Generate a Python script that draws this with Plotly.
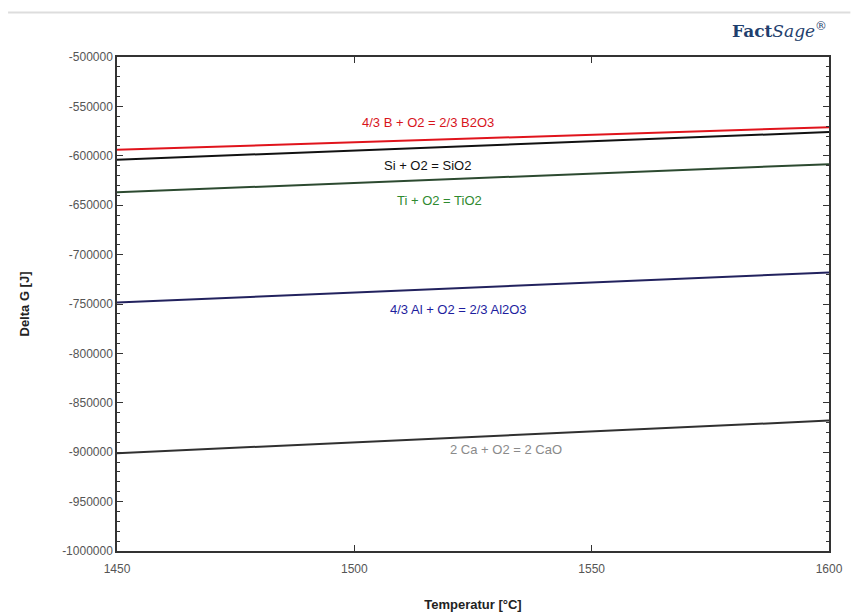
import plotly.graph_objects as go

# Standard Gibbs energy of oxide formation per mole O2 vs temperature
temperature = [1450, 1600]

reactions = ["4/3 B + O2 = 2/3 B2O3", "Si + O2 = SiO2", "Ti + O2 = TiO2",
             "4/3 Al + O2 = 2/3 Al2O3", "2 Ca + O2 = 2 CaO"]
dg_b2o3 = [-594000, -571000]
dg_sio2 = [-604000, -576000]
dg_tio2 = [-637000, -608500]
dg_al2o3 = [-748500, -718000]
dg_cao = [-901000, -868000]

y_ticks = [-500000, -550000, -600000, -650000, -700000, -750000,
           -800000, -850000, -900000, -950000, -1000000]
y_tick_text = ["-500000", "-550000", "-600000", "-650000", "-700000", "-750000",
               "-800000", "-850000", "-900000", "-950000", "-1000000"]
x_ticks = [1450, 1500, 1550, 1600]

line_colors = ["#e0141c", "#111111", "#2c4a30", "#22225e", "#303030"]
label_colors = ["#d8141c", "#111111", "#2f8a2f", "#1e1e9e", "#8a8a8a"]

# label anchor points (temperature, delta G)
label_x = [1515.5, 1515.5, 1518.0, 1522.0, 1532.0]
label_y = [-566000, -609500, -645500, -755500, -897000]

series = [dg_b2o3, dg_sio2, dg_tio2, dg_al2o3, dg_cao]

fig = go.Figure()
for name, vals, col in zip(reactions, series, line_colors):
    fig.add_trace(go.Scatter(x=temperature, y=vals, mode="lines", name=name,
                             line=dict(color=col, width=2), showlegend=False))

for name, lx, ly, col in zip(reactions, label_x, label_y, label_colors):
    fig.add_annotation(x=lx, y=ly, text=name, showarrow=False,
                       font=dict(family="Liberation Sans Narrow, Liberation Sans, Arial",
                                 size=13, color=col))

tick_font = dict(family="Liberation Sans Narrow, Liberation Sans, Arial", size=12, color="#555555")

fig.update_xaxes(range=[1450, 1600], tickvals=x_ticks, automargin=False,
                 ticks="inside", ticklen=6, tickcolor="#333333", mirror="ticks",
                 showline=True, linecolor="#333333", linewidth=1.5, showgrid=False,
                 zeroline=False, tickfont=tick_font, ticklabelstandoff=6,
                 title=dict(text="<b>Temperatur [°C]</b>", standoff=25,
                            font=dict(family="Liberation Sans, Arial", size=13, color="#222222")))
fig.update_yaxes(range=[-1000000, -500000], tickvals=y_ticks, ticktext=y_tick_text,
                 automargin=False,
                 ticks="inside", ticklen=6, tickcolor="#333333", mirror="ticks",
                 minor=dict(dtick=10000, ticks="inside", ticklen=3, tickcolor="#333333"),
                 showline=True, linecolor="#333333", linewidth=1.5, showgrid=False,
                 zeroline=False, tickfont=tick_font,
                 title=dict(text="<b>Delta G [J]</b>", standoff=30,
                            font=dict(family="Liberation Sans, Arial", size=13, color="#222222")))

# header rule and program logo
fig.add_shape(type="line", xref="paper", yref="paper", x0=-0.153, x1=1.03,
              y0=1.09, y1=1.09, line=dict(color="#dddddd", width=2))
fig.add_annotation(xref="paper", yref="paper", x=1.0, y=1.08, xanchor="right", yanchor="top",
                   text="<b>Fact</b><i>Sage</i><sup>®</sup>", showarrow=False,
                   font=dict(family="DejaVu Serif, serif", size=17, color="#1f3f6e"))

fig.update_layout(width=852, height=615, paper_bgcolor="white", plot_bgcolor="white",
                  margin=dict(l=117, r=23, t=57, b=64),
                  font=dict(family="Liberation Sans, Arial"))

fig.write_html("out.html")
